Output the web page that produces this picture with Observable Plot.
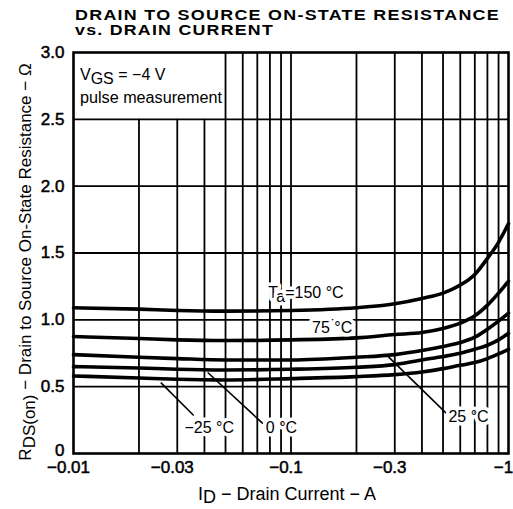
<!DOCTYPE html>
<html>
<head>
<meta charset="utf-8">
<script src="https://cdn.jsdelivr.net/npm/d3@7"></script>
<script src="https://cdn.jsdelivr.net/npm/@observablehq/plot@0.6"></script>
<style>
  html, body { margin: 0; padding: 0; background: #fff; }
  #chart { width: 513px; height: 509px; }
</style>
</head>
<body>
<div id="chart"></div>
<script>
// ---------- data ----------
const titleLines = ["DRAIN TO SOURCE ON-STATE RESISTANCE", "vs. DRAIN CURRENT"];
const xTitle = "I_{D} − Drain Current − A";
const yTitle = "R_{DS(on)} − Drain to Source On-State Resistance − Ω";
const condition = ["V_{GS} = −4 V", "pulse measurement"];

const xTicks = [0.01, 0.03, 0.1, 0.3, 1];
const xTickLabels = ["−0.01", "−0.03", "−0.1", "−0.3", "−1"];
const yTicks = [0, 0.5, 1.0, 1.5, 2.0, 2.5, 3.0];
const yTickLabels = ["0", "0.5", "1.0", "1.5", "2.0", "2.5", "3.0"];
const xGrid = [0.02, 0.03, 0.04, 0.05, 0.06, 0.07, 0.08, 0.09, 0.1, 0.2, 0.3, 0.4, 0.5, 0.6, 0.7, 0.8, 0.9];
const yGrid = [0.5, 1.0, 1.5, 2.0, 2.5];
const conditionBox = {x1: 0.01, x2: 0.05, y1: 2.5, y2: 3.0};

// drain current magnitude (A)
const current = [0.01, 0.02, 0.03, 0.05, 0.1, 0.2, 0.3, 0.4, 0.5, 0.6, 0.7, 0.8, 0.9, 1.0];
// on-state resistance (ohm) per ambient temperature
const r150 = [1.09, 1.08, 1.07, 1.065, 1.07, 1.09, 1.12, 1.16, 1.20, 1.26, 1.34, 1.46, 1.58, 1.72];
const r75  = [0.875, 0.86, 0.85, 0.845, 0.85, 0.865, 0.89, 0.905, 0.935, 0.975, 1.03, 1.11, 1.20, 1.29];
const r25  = [0.74, 0.72, 0.71, 0.70, 0.70, 0.72, 0.74, 0.77, 0.80, 0.83, 0.87, 0.93, 0.99, 1.05];
const r0   = [0.65, 0.64, 0.63, 0.625, 0.63, 0.645, 0.665, 0.70, 0.725, 0.75, 0.78, 0.81, 0.85, 0.90];
const rm25 = [0.58, 0.565, 0.555, 0.55, 0.56, 0.575, 0.59, 0.61, 0.635, 0.66, 0.68, 0.71, 0.745, 0.78];
const seriesNames = ["150", "75", "25", "0", "-25"];
const seriesValues = [r150, r75, r25, r0, rm25];

// curve labels
const labelText = ["T_{a}=150 °C", "75 °C", "−25 °C", "0 °C", "25 °C"];
const labelX = [0.1172, 0.1545, 0.0421, 0.0904, 0.655];
const labelY = [1.16, 0.898, 0.157, 0.157, 0.239];
// leader lines
const leaderX1 = [0.0252, 0.0414, 0.28];
const leaderY1 = [0.53, 0.606, 0.725];
const leaderX2 = [0.0357, 0.0743, 0.518];
const leaderY2 = [0.284, 0.224, 0.30];

// ---------- tables ----------
const rows = [];
seriesNames.forEach((s, i) => current.forEach((c, j) => rows.push({series: s, x: c, y: seriesValues[i][j]})));
const labels = labelText.map((t, i) => ({t, x: labelX[i], y: labelY[i]}));
const leaders = leaderX1.map((x1, i) => ({x1, y1: leaderY1[i], x2: leaderX2[i], y2: leaderY2[i]}));

const FONT = "'Liberation Sans', Arial, Helvetica, sans-serif";

const chart = Plot.plot({
  width: 513,
  height: 509,
  marginTop: 52,
  marginLeft: 73,
  marginRight: 5,
  marginBottom: 56,
  style: {fontFamily: FONT, fontSize: "17px", color: "black", background: "white", overflow: "visible"},
  x: {type: "log", domain: [0.01, 1]},
  y: {domain: [0, 3]},
  marks: [
    Plot.ruleX(xGrid, {x: d => d, y1: 0, y2: d => (d > conditionBox.x1 && d < conditionBox.x2) ? conditionBox.y1 : 3, stroke: "black", strokeWidth: 1.8}),
    Plot.ruleY(yGrid, {y: d => d, stroke: "black", strokeWidth: 1.8}),
    Plot.line(rows, {x: "x", y: "y", z: "series", curve: "monotone-x", stroke: "black", strokeWidth: 3.6}),
    Plot.link(leaders, {x1: "x1", y1: "y1", x2: "x2", y2: "y2", stroke: "black", strokeWidth: 1.6}),
    Plot.text(labels, {x: "x", y: "y", text: "t", textAnchor: "middle", lineAnchor: "bottom", fontSize: 16, fill: "black", stroke: "white", strokeWidth: 7}),
    Plot.axisX({ticks: xTicks, tickFormat: d => xTickLabels[xTicks.indexOf(d)], tickSize: 0, tickPadding: 7, label: null, fontSize: 17, dx: -5}),
    Plot.axisY({ticks: yTicks, tickFormat: d => yTickLabels[yTicks.indexOf(d)], tickSize: 0, tickPadding: 9, label: null, fontSize: 17}),
    Plot.frame({stroke: "black", strokeWidth: 2.6})
  ]
});
document.getElementById("chart").appendChild(chart);

// ---------- subscripts & extra text ----------
const NS = "http://www.w3.org/2000/svg";
function fillRich(el, s, shift) {
  el.textContent = "";
  const parts = s.split(/(_\{[^}]*\})/).filter(p => p);
  let down = false;
  for (const p of parts) {
    const t = document.createElementNS(NS, "tspan");
    const sub = p.startsWith("_{");
    t.textContent = sub ? p.slice(2, -1) : p;
    if (sub && !down) { t.setAttribute("dy", shift); down = true; }
    else if (!sub && down) { t.setAttribute("dy", -shift); down = false; }
    el.appendChild(t);
  }
}
d3.select(chart).selectAll("text").each(function() {
  const s = this.textContent;
  if (s.includes("_{")) fillRich(this, s, 4);
});
// slightly heavier tick labels, like the printed original
d3.select(chart).selectAll("g[aria-label='x-axis tick label'] text, g[aria-label='y-axis tick label'] text")
  .attr("stroke", "black").attr("stroke-width", 0.5);
// the "0" label sits a little above the bottom edge, clear of "−0.01"
d3.select(chart).selectAll("g[aria-label='y-axis tick label'] text")
  .filter(function() { return this.textContent === "0"; })
  .attr("dy", "-0.2em");

const svg = d3.select(chart);
const g = svg.append("g").attr("font-family", FONT).attr("fill", "black").attr("text-anchor", "start");
// title
g.append("text").attr("x", 75).attr("y", 20).attr("font-size", 14).attr("font-weight", "bold")
  .attr("letter-spacing", 1).attr("textLength", 425).attr("lengthAdjust", "spacingAndGlyphs").text(titleLines[0]);
g.append("text").attr("x", 75).attr("y", 35).attr("font-size", 14).attr("font-weight", "bold")
  .attr("letter-spacing", 1).attr("textLength", 199).attr("lengthAdjust", "spacingAndGlyphs").text(titleLines[1]);
// condition box text
const c1 = g.append("text").attr("x", 80).attr("y", 80).attr("font-size", 16).node();
fillRich(c1, condition[0], 4);
g.append("text").attr("x", 80).attr("y", 103).attr("font-size", 16)
  .attr("textLength", 142).attr("lengthAdjust", "spacingAndGlyphs").text(condition[1]);
// x title
const xt = g.append("text").attr("x", 287).attr("y", 500).attr("font-size", 18).attr("text-anchor", "middle").node();
fillRich(xt, xTitle, 3);
// y title
const yt = g.append("text").attr("transform", "translate(31,262) rotate(-90)").attr("font-size", 17).attr("text-anchor", "middle").node();
fillRich(yt, yTitle, 4);
</script>
</body>
</html>
